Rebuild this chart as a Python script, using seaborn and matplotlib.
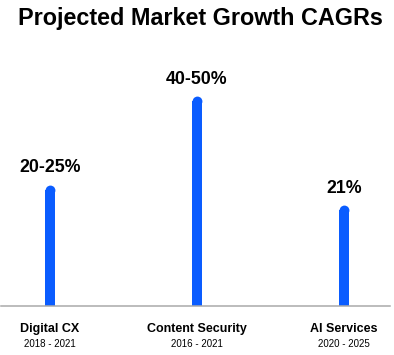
import matplotlib
matplotlib.use("Agg")
import matplotlib.pyplot as plt
import pandas as pd
import seaborn as sns

# Data
categories = ["Digital CX", "Content Security", "AI Services"]
periods = ["2018 - 2021", "2016 - 2021", "2020 - 2025"]
cagr_labels = ["20-25%", "40-50%", "21%"]
bar_heights = [25.5, 45, 21]

BLUE = "#0a5cff"
GREY = "#aaaaaa"

df = pd.DataFrame({"category": categories, "height": bar_heights})

sns.set_style("white")
plt.rcParams["font.family"] = ["Liberation Sans", "DejaVu Sans"]
plt.rcParams["text.color"] = "black"

fig = plt.figure(figsize=(3.94, 3.55), dpi=100)
ax = fig.add_axes([1 / 394, 49 / 355, 389 / 394, 246 / 355])

# thin bars
sns.barplot(data=df, x="category", y="height", color=BLUE, width=0.068,
            saturation=1, linewidth=0, ax=ax)
# round tops
sns.scatterplot(data=df, x="category", y="height", color=BLUE, s=50,
                linewidth=0, marker="o", ax=ax, zorder=3, clip_on=False)

ax.set_xlim(-0.333, 2.313)
ax.set_ylim(0, 54)

# value labels above the bars
for i, (h, lab) in enumerate(zip(bar_heights, cagr_labels)):
    ax.annotate(lab, xy=(i, h), xytext=(0, 12.5), textcoords="offset points",
                ha="center", va="baseline", fontsize=12.8, fontweight="bold",
                color="black")

# category names and periods under the axis
for i, (cat, per) in enumerate(zip(categories, periods)):
    ax.annotate(cat, xy=(i, 0), xycoords=("data", "axes fraction"),
                xytext=(0, -16.5), textcoords="offset points",
                ha="center", va="center", fontsize=9, fontweight="bold",
                color="black")
    ax.annotate(per, xy=(i, 0), xycoords=("data", "axes fraction"),
                xytext=(0, -27.5), textcoords="offset points",
                ha="center", va="center", fontsize=7, color="black")

ax.set_xticks([])
ax.set_yticks([])
ax.set_xlabel("")
ax.set_ylabel("")
for side in ["top", "right", "left"]:
    ax.spines[side].set_visible(False)
ax.spines["bottom"].set_color(GREY)
ax.spines["bottom"].set_linewidth(1.1)

fig.text(0.508, 1 - 19 / 355, "Projected Market Growth CAGRs", ha="center",
         va="center", fontsize=16.8, fontweight="bold", color="black")

fig.savefig("out.png", dpi=100)
